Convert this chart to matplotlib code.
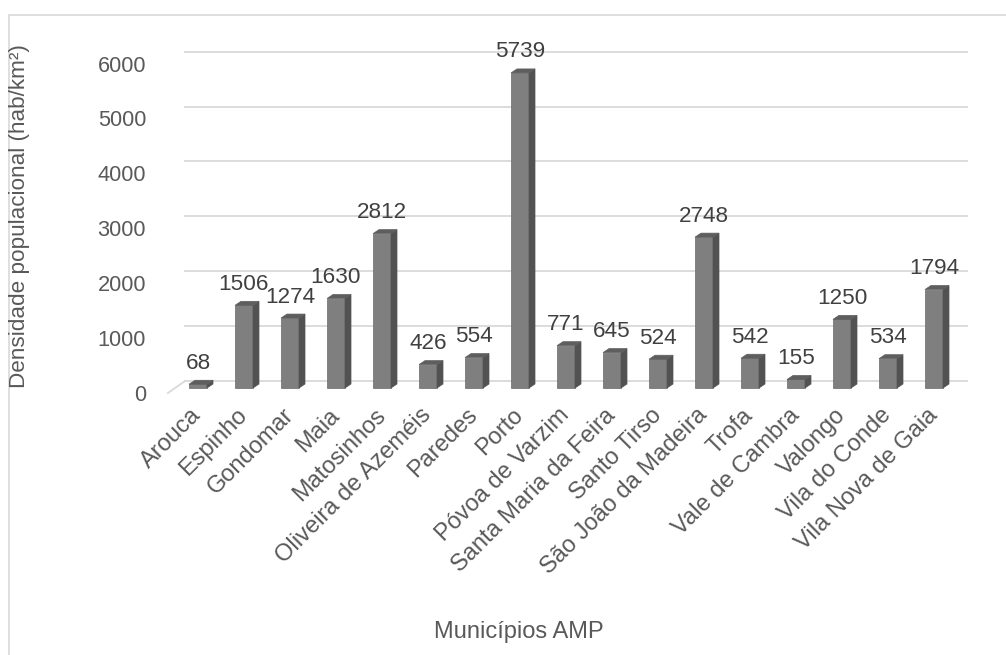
import matplotlib
matplotlib.use("Agg")
import matplotlib.pyplot as plt
from matplotlib.patches import Polygon, Rectangle

MUNICIPIOS = [
    "Arouca", "Espinho", "Gondomar", "Maia", "Matosinhos",
    "Oliveira de Azeméis", "Paredes", "Porto", "Póvoa de Varzim",
    "Santa Maria da Feira", "Santo Tirso", "São João da Madeira", "Trofa",
    "Vale de Cambra", "Valongo", "Vila do Conde", "Vila Nova de Gaia",
]
DENSIDADE = [68, 1506, 1274, 1630, 2812, 426, 554, 5739, 771, 645, 524,
             2748, 542, 155, 1250, 534, 1794]
Y_TICKS = [0, 1000, 2000, 3000, 4000, 5000, 6000]

plt.rcParams["font.family"] = ["Liberation Sans", "DejaVu Sans"]

W, H, DPI = 1006, 655, 100
GRID = "#d9d9d9"
TXT = "#595959"
FRONT, SIDE, TOP = "#7f7f7f", "#525252", "#5e5e5e"

fig = plt.figure(figsize=(W / DPI, H / DPI), dpi=DPI)

# front plane of the 3D box, pixel bounds
LEFT, RIGHT, BASE, CEIL = 168, 950, 393, 63.6
ax = fig.add_axes([LEFT / W, 1 - BASE / H, (RIGHT - LEFT) / W, (BASE - CEIL) / H])
n = len(MUNICIPIOS)
ax.set_xlim(-0.5, n - 0.5)
ax.set_ylim(0, Y_TICKS[-1])
for s in ax.spines.values():
    s.set_visible(False)

ux = n / (RIGHT - LEFT)
uy = Y_TICKS[-1] / (BASE - CEIL)


def px(dx, dy):
    """pixel offset -> data offset (dy positive upwards)"""
    return dx * ux, dy * uy


# back wall gridlines and floor edge
fx, fy = px(17, 12)
for v in Y_TICKS:
    ax.plot([-0.5 + fx, n - 0.5 + fx], [v + fy, v + fy], color=GRID, lw=1.3,
            clip_on=False, zorder=1)
ax.plot([-0.5, -0.5 + fx], [0, fy], color=GRID, lw=1.3, clip_on=False, zorder=1)

# bars: front face, right side, top
bx, by = px(7, 5)
hw, _ = px(9, 0)
sx, sy = px(6, 4)
_, lab_dy = px(0, 17)
for i, v in enumerate(DENSIDADE):
    x0, x1 = i + bx - hw, i + bx + hw
    y0, y1 = by, by + v
    ax.add_patch(Rectangle((x0, y0), x1 - x0, v, fc=FRONT, ec="#6a6a6a",
                           lw=0.5, clip_on=False, zorder=3))
    ax.add_patch(Polygon([(x1, y0), (x1 + sx, y0 + sy), (x1 + sx, y1 + sy), (x1, y1)],
                         fc=SIDE, ec=SIDE, lw=0.5, clip_on=False, zorder=3))
    ax.add_patch(Polygon([(x0, y1), (x1, y1), (x1 + sx, y1 + sy), (x0 + sx, y1 + sy)],
                         fc=TOP, ec=TOP, lw=0.5, clip_on=False, zorder=3))
    ax.text(i + bx, y1 + sy + lab_dy, str(v), ha="center", va="center",
            fontsize=16.2, color="#404040", zorder=4, clip_on=False)

ax.set_yticks(Y_TICKS)
ax.tick_params(axis="y", length=0, pad=15.8, labelsize=15.7, labelcolor=TXT)
ax.set_xticks([])

# rotated category labels
lx, ly = px(7, 19)
for i, name in enumerate(MUNICIPIOS):
    ax.text(i + lx, -ly, name, rotation=45, rotation_mode="anchor",
            ha="right", va="center", fontsize=17, color=TXT, clip_on=False)

fig.text(20 / W, 1 - 216 / H, "Densidade populacional (hab/km²)", rotation=90,
         ha="center", va="center", fontsize=16.2, color=TXT)
fig.text(519 / W, 1 - 632 / H, "Municípios AMP", ha="center", va="center",
         fontsize=17, color=TXT)

# chart area border (runs off the right and bottom edges)
fig.patches.append(Rectangle((9 / W, -0.1), 1.0, 1 - 15 / H + 0.1,
                             transform=fig.transFigure, fill=False,
                             ec=GRID, lw=1.2))

fig.savefig("out.png", dpi=DPI)
